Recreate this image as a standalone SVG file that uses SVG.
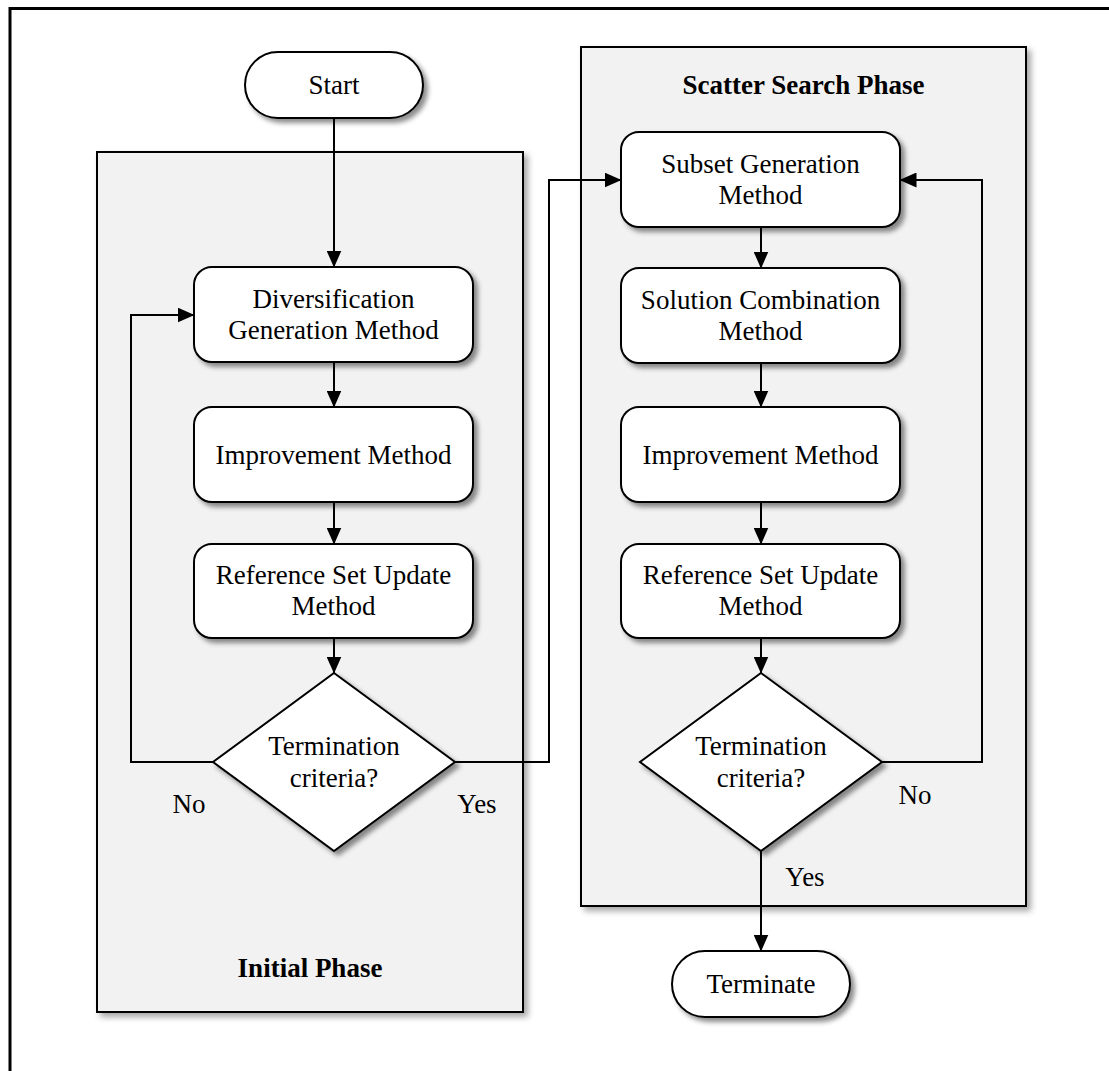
<svg xmlns="http://www.w3.org/2000/svg" width="1109" height="1071" viewBox="0 0 1109 1071">
<style>
.txt{font-family:"Liberation Serif","Times New Roman",serif;font-size:27px;fill:#000;text-anchor:middle}
.ttl{font-family:"Liberation Serif","Times New Roman",serif;font-size:27px;font-weight:bold;fill:#000;text-anchor:middle}
.node{fill:#fff;stroke:#000;stroke-width:2;filter:url(#sh)}
.phase{fill:#f2f2f2;stroke:#000;stroke-width:2;filter:url(#sh2)}
.conn{fill:none;stroke:#000;stroke-width:2;marker-end:url(#ah)}
</style>
<defs>
<filter id="sh" x="-20%" y="-20%" width="150%" height="150%">
<feDropShadow dx="4" dy="4" stdDeviation="2.5" flood-color="#000" flood-opacity="0.45"/>
</filter>
<filter id="sh2" x="-10%" y="-10%" width="125%" height="125%">
<feDropShadow dx="4" dy="4" stdDeviation="3" flood-color="#000" flood-opacity="0.35"/>
</filter>
<marker id="ah" viewBox="0 0 17 15" refX="16.5" refY="7.5" markerWidth="17" markerHeight="15" markerUnits="userSpaceOnUse" orient="auto">
<path d="M0,0 L17,7.5 L0,15 z" fill="#000"/>
</marker>
</defs>
<rect width="1109" height="1071" fill="#fff"/>
<path d="M10,1071 V8.5 H1109" fill="none" stroke="#000" stroke-width="3"/>

<g id="initial-phase">
<rect class="phase" x="97" y="152" width="426" height="860"/>
<text class="ttl" x="310" y="977">Initial Phase</text>
</g>
<g id="scatter-phase">
<rect class="phase" x="581" y="47" width="445" height="859"/>
<text class="ttl" x="803.5" y="94">Scatter Search Phase</text>
</g>

<g id="connectors">
<path class="conn" d="M334,118 V267"/>
<path class="conn" d="M334,362 V407"/>
<path class="conn" d="M334,502 V544"/>
<path class="conn" d="M334,638 V673"/>
<path class="conn" d="M213,762 H131 V315 H194"/>
<path class="conn" d="M455,762 H549 V180 H621"/>
<path class="conn" d="M761,227 V268"/>
<path class="conn" d="M761,363 V407"/>
<path class="conn" d="M761,502 V544"/>
<path class="conn" d="M761,638 V673"/>
<path class="conn" d="M882,762 H982 V180 H900"/>
<path class="conn" d="M761,851 V951"/>
<text class="txt" x="189" y="813">No</text>
<text class="txt" x="477" y="813">Yes</text>
<text class="txt" x="915" y="804">No</text>
<text class="txt" x="805" y="886">Yes</text>
</g>

<g id="start">
<rect class="node" x="245" y="52" width="178" height="66" rx="33"/>
<text class="txt" x="334" y="94">Start</text>
</g>
<g id="diversification">
<rect class="node" x="194" y="267" width="279" height="95" rx="18"/>
<text class="txt" x="333.5" y="307.5">Diversification</text>
<text class="txt" x="333.5" y="339">Generation Method</text>
</g>
<g id="improvement-1">
<rect class="node" x="194" y="407" width="279" height="95" rx="18"/>
<text class="txt" x="333.5" y="464">Improvement Method</text>
</g>
<g id="refset-1">
<rect class="node" x="194" y="544" width="279" height="94" rx="18"/>
<text class="txt" x="333.5" y="584">Reference Set Update</text>
<text class="txt" x="333.5" y="615">Method</text>
</g>
<g id="termination-1">
<path class="node" d="M334,673 L455,762 L334,851 L213,762 z"/>
<text class="txt" x="334" y="755">Termination</text>
<text class="txt" x="334" y="787">criteria?</text>
</g>

<g id="subset">
<rect class="node" x="621" y="132" width="279" height="95" rx="18"/>
<text class="txt" x="760.5" y="172.5">Subset Generation</text>
<text class="txt" x="760.5" y="204">Method</text>
</g>
<g id="combination">
<rect class="node" x="621" y="268" width="279" height="95" rx="18"/>
<text class="txt" x="760.5" y="308.5">Solution Combination</text>
<text class="txt" x="760.5" y="340">Method</text>
</g>
<g id="improvement-2">
<rect class="node" x="621" y="407" width="279" height="95" rx="18"/>
<text class="txt" x="760.5" y="464">Improvement Method</text>
</g>
<g id="refset-2">
<rect class="node" x="621" y="544" width="279" height="94" rx="18"/>
<text class="txt" x="760.5" y="584">Reference Set Update</text>
<text class="txt" x="760.5" y="615">Method</text>
</g>
<g id="termination-2">
<path class="node" d="M761,673 L882,762 L761,851 L640,762 z"/>
<text class="txt" x="761" y="755">Termination</text>
<text class="txt" x="761" y="787">criteria?</text>
</g>
<g id="terminate">
<rect class="node" x="672" y="951" width="178" height="66" rx="33"/>
<text class="txt" x="761" y="993">Terminate</text>
</g>
</svg>
